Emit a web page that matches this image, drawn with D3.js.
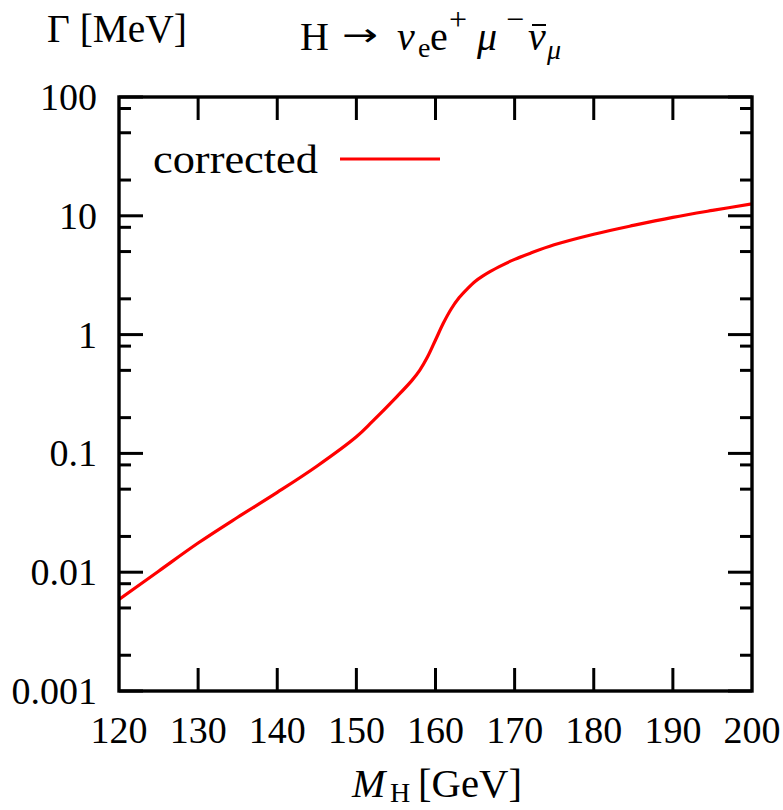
<!DOCTYPE html>
<html><head><meta charset="utf-8">
<script src="https://cdn.jsdelivr.net/npm/d3@7"></script>
<style>body{margin:0;background:#fff}svg{display:block}text{font-family:"Liberation Serif",serif;fill:#000}</style>
</head><body>
<svg id="c" width="783" height="810"></svg>
<script>
const masses = [120,125,130,135,140,145,150,152,155,157,158,159,160,161,162,163,164,165,166,167,168,170,172,175,180,185,190,195,200];
const widths = [0.0059,0.0102,0.0176,0.029,0.047,0.078,0.138,0.185,0.295,0.41,0.50,0.65,0.90,1.25,1.65,2.05,2.42,2.8,3.12,3.42,3.72,4.3,4.85,5.7,7.0,8.3,9.7,11.1,12.6];
const xTicks = [120,130,140,150,160,170,180,190,200];
const yTicks = [0.001,0.01,0.1,1,10,100];
const yTickLabels = ["0.001","0.01","0.1","1","10","100"];
const minorFactors = [2,5,8];
const seriesName = "corrected";

const svg = d3.select("#c");
const L=119, R=752, T=97, B=691;
const x = d3.scaleLinear().domain([120,200]).range([L,R]);
const y = d3.scaleLog().domain([0.001,100]).range([B,T]);

// curve (clipped)
svg.append("clipPath").attr("id","clip").append("rect").attr("x",L).attr("y",T).attr("width",R-L).attr("height",B-T);
const line = d3.line().x(d=>x(d[0])).y(d=>y(d[1])).curve(d3.curveCatmullRom.alpha(0.5));
svg.append("path").datum(masses.map((m,i)=>[m,widths[i]]))
  .attr("d",line).attr("fill","none").attr("stroke","#ff0000").attr("stroke-width",3.2)
  .attr("clip-path","url(#clip)");

// ticks
const g = svg.append("g").attr("stroke","#000").attr("stroke-width",3);
const minors = [];
yTicks.slice(0,-1).forEach(t=>minorFactors.forEach(f=>minors.push(t*f)));
xTicks.slice(1,-1).forEach(t=>{
  g.append("line").attr("x1",x(t)).attr("x2",x(t)).attr("y1",B).attr("y2",B-23);
  g.append("line").attr("x1",x(t)).attr("x2",x(t)).attr("y1",T).attr("y2",T+23);
});
yTicks.forEach(t=>{
  g.append("line").attr("x1",L).attr("x2",L+24).attr("y1",y(t)).attr("y2",y(t));
  g.append("line").attr("x1",R).attr("x2",R-24).attr("y1",y(t)).attr("y2",y(t));
});
minors.forEach(t=>{
  g.append("line").attr("x1",L).attr("x2",L+12).attr("y1",y(t)).attr("y2",y(t));
  g.append("line").attr("x1",R).attr("x2",R-12).attr("y1",y(t)).attr("y2",y(t));
});
svg.append("rect").attr("x",L).attr("y",T).attr("width",R-L).attr("height",B-T)
  .attr("fill","none").attr("stroke","#000").attr("stroke-width",3.4);

// tick labels
svg.selectAll(".xl").data(xTicks).enter().append("text")
  .attr("x",d=>x(d)).attr("y",743).attr("text-anchor","middle")
  .attr("font-size",38).text(d=>d);
svg.selectAll(".yl").data(yTicks).enter().append("text")
  .attr("x",97).attr("y",d=>y(d)+13).attr("text-anchor","end")
  .attr("font-size",38).text((d,i)=>yTickLabels[i]);

// legend
svg.append("text").attr("x",153).attr("y",173).attr("font-size",40)
  .attr("textLength",165).attr("lengthAdjust","spacingAndGlyphs").text(seriesName);
svg.append("line").attr("x1",340).attr("x2",440).attr("y1",159).attr("y2",159)
  .attr("stroke","#ff0000").attr("stroke-width",3.2);

// y title
svg.append("text").attr("x",47).attr("y",42).attr("font-size",40)
  .attr("textLength",140).attr("lengthAdjust","spacingAndGlyphs").text("Γ [MeV]");

// plot title
const tt = svg.append("text").attr("y",50).attr("font-size",40);
tt.append("tspan").attr("x",300).text("H");
tt.append("tspan").attr("x",397).attr("font-style","italic").text("ν");
tt.append("tspan").attr("x",418).attr("dy",7).attr("font-size",28).text("e");
tt.append("tspan").attr("x",430).attr("dy",-7).text("e");
tt.append("tspan").attr("x",449).attr("dy",-20).attr("font-size",32).text("+");
tt.append("tspan").attr("x",477).attr("dy",20).attr("font-style","italic").text("μ");
tt.append("tspan").attr("x",506).attr("dy",-20).attr("font-size",32).text("−");
tt.append("tspan").attr("x",528).attr("dy",20).attr("font-style","italic").text("ν");
tt.append("tspan").attr("x",547).attr("dy",9).attr("font-size",28).attr("font-style","italic").text("μ");
svg.append("line").attr("x1",532).attr("x2",546).attr("y1",25).attr("y2",25).attr("stroke","#000").attr("stroke-width",2);
// arrow, stretched to the reference width
const arr = svg.append("text").attr("font-size",40).style("font-family","'DejaVu Sans'").text("→");
const ab = arr.node().getBBox();
const aw = ab.width || 33;
arr.attr("transform",`translate(${342 - ab.x*36/aw},46) scale(${36/aw},0.8)`);

// x title
const xt = svg.append("text").attr("y",797).attr("font-size",40);
xt.append("tspan").attr("x",352).attr("font-style","italic").text("M");
xt.append("tspan").attr("x",390).attr("dy",5).attr("font-size",28).text("H");
xt.append("tspan").attr("x",418).attr("dy",-5).attr("textLength",104).attr("lengthAdjust","spacingAndGlyphs").text("[GeV]");
</script>
</body></html>
